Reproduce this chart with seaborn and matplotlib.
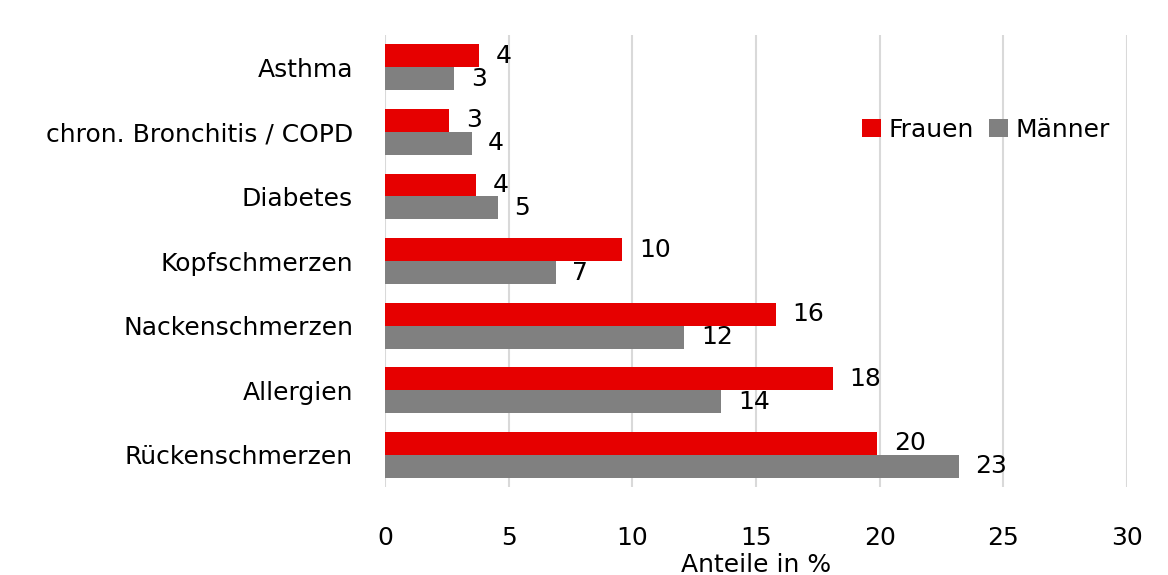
import matplotlib
matplotlib.use("Agg")
import matplotlib.pyplot as plt
import seaborn as sns
import pandas as pd

categories = ["Asthma", "chron. Bronchitis / COPD", "Diabetes", "Kopfschmerzen",
              "Nackenschmerzen", "Allergien", "Rückenschmerzen"]
frauen = [3.8, 2.6, 3.7, 9.6, 15.8, 18.1, 19.9]
maenner = [2.8, 3.5, 4.55, 6.9, 12.1, 13.6, 23.2]
series = ["Frauen", "Männer"]
xticks = [0, 5, 10, 15, 20, 25, 30]

df = pd.DataFrame({
    "Erkrankung": categories * 2,
    "Anteil": frauen + maenner,
    "Geschlecht": [series[0]] * len(categories) + [series[1]] * len(categories),
})

sns.set_theme(style="white")
plt.rcParams["font.family"] = ["DejaVu Sans"]
fs = 18

fig = plt.figure(figsize=(11.68, 5.75), dpi=100)
ax = fig.add_axes([0.3296, 0.153, 0.6353, 0.786])

sns.barplot(data=df, x="Anteil", y="Erkrankung", hue="Geschlecht", order=categories,
            hue_order=series, palette=["#e60000", "#808080"], orient="h",
            width=0.71, saturation=1, linewidth=0, ax=ax, legend=True)

for cont in ax.containers:
    ax.bar_label(cont, labels=[f"{b.get_width():.0f}" for b in cont],
                 padding=12, fontsize=fs, color="#000000")

ax.set_xlim(0, 30)
ax.set_ylim(6.5, -0.5)
ax.set_xticks(xticks)
ax.set_xticklabels([str(t) for t in xticks])
ax.grid(axis="x", color="#d9d9d9", linewidth=1.5)
ax.set_axisbelow(True)
for s in ax.spines.values():
    s.set_visible(False)
ax.tick_params(axis="both", length=0, labelsize=fs, colors="#000000")
ax.tick_params(axis="x", pad=28)
ax.tick_params(axis="y", pad=23)
ax.set_ylabel("")
ax.set_xlabel("Anteile in %", fontsize=fs, color="#000000", labelpad=2)

leg = ax.legend(loc="center right", bbox_to_anchor=(0.99, 0.79), frameon=False, ncol=2,
                fontsize=fs, handlelength=0.75, handleheight=0.75, handletextpad=0.3,
                columnspacing=0.6, borderaxespad=0)
for t in leg.get_texts():
    t.set_color("#000000")

fig.savefig("out.png", dpi=100, facecolor="white")
